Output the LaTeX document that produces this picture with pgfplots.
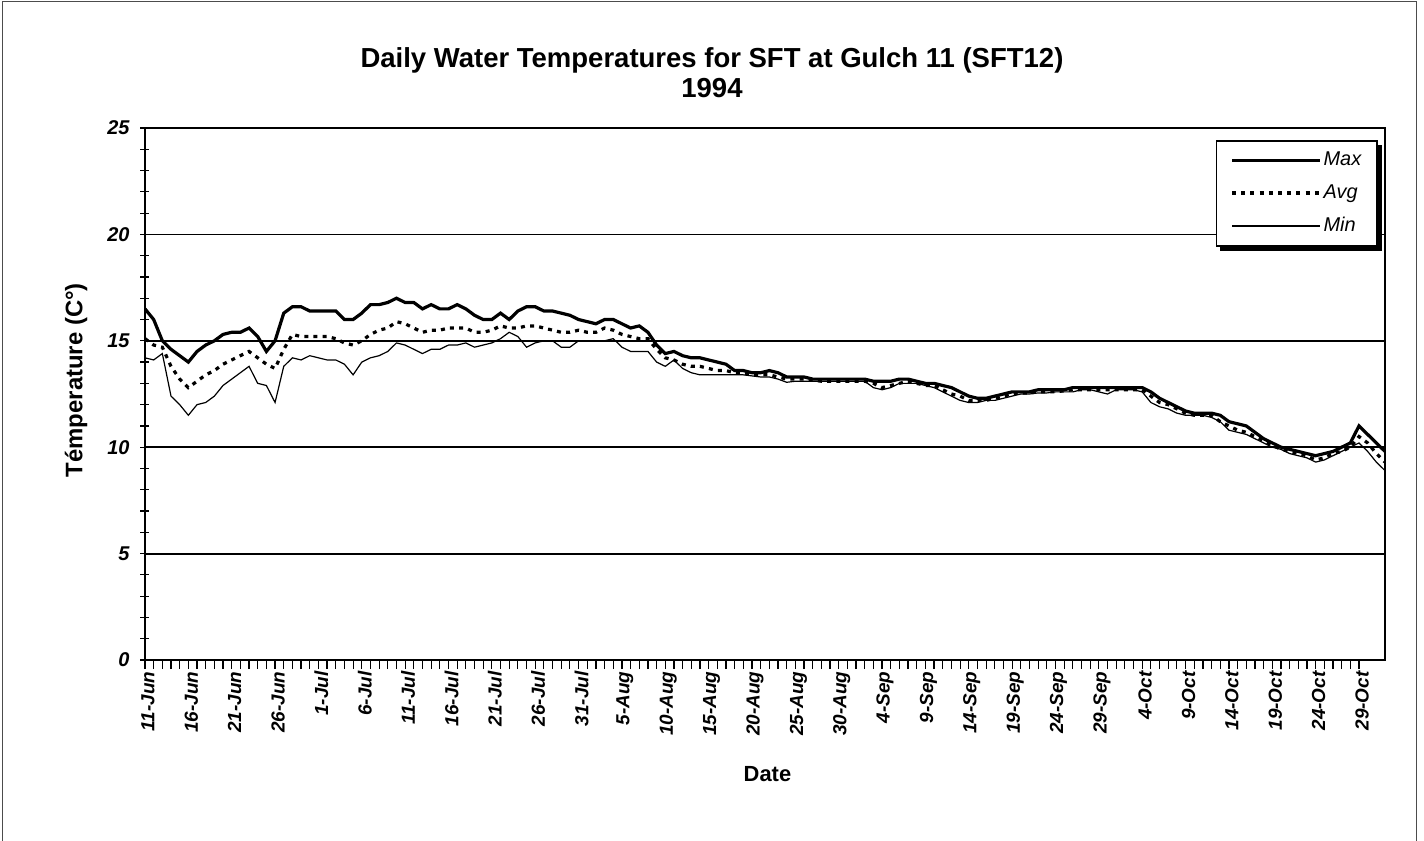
\documentclass[border=0pt]{standalone}
\usepackage{pgfplots}
\pgfplotsset{compat=1.18}
\usepackage{pgfplotstable}
\usepackage{fontspec}
\setmainfont{Liberation Sans}
\pgfdeclarelayer{background}
\pgfsetlayers{background,main}

\pgfplotstableread{
d max avg min
0 16.5 15.1 14.2
1 16.0 14.8 14.1
2 15.0 14.7 14.4
3 14.6 13.8 12.4
4 14.3 13.2 12.0
5 14.0 12.8 11.5
6 14.5 13.1 12.0
7 14.8 13.4 12.1
8 15.0 13.6 12.4
9 15.3 13.9 12.9
10 15.4 14.1 13.2
11 15.4 14.3 13.5
12 15.6 14.5 13.8
13 15.2 14.2 13.0
14 14.5 13.9 12.9
15 15.0 13.7 12.1
16 16.3 14.6 13.8
17 16.6 15.3 14.2
18 16.6 15.2 14.1
19 16.4 15.2 14.3
20 16.4 15.2 14.2
21 16.4 15.2 14.1
22 16.4 15.1 14.1
23 16.0 14.9 13.9
24 16.0 14.8 13.4
25 16.3 15.0 14.0
26 16.7 15.3 14.2
27 16.7 15.5 14.3
28 16.8 15.6 14.5
29 17.0 15.9 14.9
30 16.8 15.8 14.8
31 16.8 15.6 14.6
32 16.5 15.4 14.4
33 16.7 15.5 14.6
34 16.5 15.5 14.6
35 16.5 15.6 14.8
36 16.7 15.6 14.8
37 16.5 15.6 14.9
38 16.2 15.4 14.7
39 16.0 15.4 14.8
40 16.0 15.5 14.9
41 16.3 15.7 15.1
42 16.0 15.6 15.4
43 16.4 15.6 15.2
44 16.6 15.7 14.7
45 16.6 15.7 14.9
46 16.4 15.6 15.0
47 16.4 15.5 15.0
48 16.3 15.4 14.7
49 16.2 15.4 14.7
50 16.0 15.5 15.0
51 15.9 15.4 15.0
52 15.8 15.4 15.0
53 16.0 15.6 15.0
54 16.0 15.5 15.1
55 15.8 15.3 14.7
56 15.6 15.2 14.5
57 15.7 15.1 14.5
58 15.4 15.1 14.5
59 14.8 14.6 14.0
60 14.4 14.2 13.8
61 14.5 14.1 14.1
62 14.3 13.9 13.7
63 14.2 13.8 13.5
64 14.2 13.8 13.4
65 14.1 13.7 13.4
66 14.0 13.6 13.4
67 13.9 13.6 13.4
68 13.6 13.5 13.4
69 13.6 13.5 13.4
70 13.5 13.4 13.35
71 13.5 13.4 13.3
72 13.6 13.4 13.3
73 13.5 13.3 13.2
74 13.3 13.2 13.05
75 13.3 13.2 13.1
76 13.3 13.2 13.1
77 13.2 13.15 13.1
78 13.2 13.1 13.1
79 13.2 13.1 13.1
80 13.2 13.1 13.1
81 13.2 13.1 13.1
82 13.2 13.1 13.1
83 13.2 13.1 13.1
84 13.1 13.0 12.8
85 13.1 12.8 12.7
86 13.1 12.9 12.8
87 13.2 13.0 13.0
88 13.2 13.1 13.0
89 13.1 13.0 13.0
90 13.0 12.9 12.9
91 13.0 12.9 12.8
92 12.9 12.7 12.6
93 12.8 12.5 12.4
94 12.6 12.4 12.2
95 12.4 12.2 12.1
96 12.3 12.2 12.1
97 12.3 12.2 12.2
98 12.4 12.3 12.2
99 12.5 12.4 12.3
100 12.6 12.5 12.4
101 12.6 12.55 12.5
102 12.6 12.55 12.5
103 12.7 12.6 12.55
104 12.7 12.6 12.55
105 12.7 12.6 12.6
106 12.7 12.65 12.6
107 12.8 12.7 12.6
108 12.8 12.7 12.7
109 12.8 12.7 12.7
110 12.8 12.7 12.6
111 12.8 12.7 12.5
112 12.8 12.7 12.7
113 12.8 12.7 12.7
114 12.8 12.7 12.7
115 12.8 12.7 12.6
116 12.6 12.4 12.1
117 12.3 12.1 11.9
118 12.1 12.0 11.8
119 11.9 11.8 11.6
120 11.7 11.6 11.5
121 11.6 11.5 11.5
122 11.6 11.5 11.5
123 11.6 11.5 11.4
124 11.5 11.2 11.2
125 11.2 11.0 10.8
126 11.1 10.8 10.7
127 11.0 10.7 10.6
128 10.7 10.5 10.4
129 10.4 10.3 10.2
130 10.2 10.1 10.0
131 10.0 9.9 9.9
132 9.9 9.8 9.7
133 9.8 9.7 9.6
134 9.7 9.6 9.5
135 9.6 9.4 9.3
136 9.7 9.5 9.4
137 9.8 9.7 9.6
138 10.0 9.8 9.8
139 10.2 10.0 10.0
140 11.0 10.5 10.2
141 10.6 10.2 9.8
142 10.2 9.7 9.3
143 9.8 9.3 8.9
}\datatable

\begin{document}
\begin{tikzpicture}
\useasboundingbox (-72.5bp,-90.5bp) rectangle (639.5bp,330bp);
\draw[line width=0.5bp, black!70] (-71bp,-95bp) -- (-71bp,329bp) -- (635.5bp,329bp) -- (635.5bp,-95bp);
\begin{axis}[
  scale only axis, width=620bp, height=266bp,
  at={(0,0)}, anchor=south west,
  xmin=0, xmax=143, ymin=0, ymax=25,
  xtick={0,5,...,140},
  xticklabels={11-Jun,16-Jun,21-Jun,26-Jun,1-Jul,6-Jul,11-Jul,16-Jul,21-Jul,26-Jul,31-Jul,5-Aug,10-Aug,15-Aug,20-Aug,25-Aug,30-Aug,4-Sep,9-Sep,14-Sep,19-Sep,24-Sep,29-Sep,4-Oct,9-Oct,14-Oct,19-Oct,24-Oct,29-Oct},
  minor x tick num=4,
  ytick={0,5,...,25}, minor y tick num=4,
  xtick pos=bottom, ytick pos=left,
  tick align=center,
  major tick length=4.5bp, minor tick length=4.5bp,
  x tick style={yshift=-2.25bp, line width=0.6bp, black},
  y tick style={line width=0.6bp, black},
  ymajorgrids, grid style={black, line width=0.9bp},
  axis line style={black, line width=0.8bp},
  /pgf/number format/assume math mode=true,
  xticklabel style={rotate=90, anchor=east, font=\fontsize{9.5}{10}\selectfont\bfseries\itshape, yshift=-1.5bp},
  yticklabel style={font=\fontsize{10}{12}\selectfont\bfseries\itshape, xshift=-2bp},
  xlabel={Date},
  ylabel={Témperature (C°)},
  xlabel style={font=\fontsize{11}{13}\selectfont\bfseries, at={(axis description cs:0.502,-0.214)}, anchor=center},
  ylabel style={font=\fontsize{12}{14}\selectfont\bfseries, at={(axis description cs:-0.0555,0.526)}, anchor=center, rotate=0},
  legend style={name=leg, at={(axis description cs:0.9944,0.977)}, anchor=north east,
    draw=black, line width=0.8bp, fill=white,
    font=\fontsize{10}{12}\selectfont\itshape,
    inner xsep=7bp, inner ysep=3.5bp, row sep=4bp,
    nodes={inner xsep=1bp}},
  legend cell align=left,
  legend image code/.code={\draw[#1] (0bp,0bp) -- (44bp,0bp);},
]
\addplot[black, line width=1.6bp] table[x=d, y=max] {\datatable};
\addlegendentry{Max}
\addplot[black, line width=1.6bp, dash pattern=on 2bp off 2.6bp] table[x=d, y=avg] {\datatable};
\addlegendentry{Avg}
\addplot[black, line width=0.6bp] table[x=d, y=min] {\datatable};
\addlegendentry{Min}
\end{axis}
\begin{pgfonlayer}{background}
\fill[black] ([xshift=2.2bp,yshift=-2.2bp]leg.south west) rectangle ([xshift=2.2bp,yshift=-2.2bp]leg.north east);
\end{pgfonlayer}
\node[font=\fontsize{13.8}{15}\selectfont\bfseries, align=center] at (283.5bp,293.5bp) {Daily Water Temperatures for SFT at Gulch 11 (SFT12)\\1994};
\end{tikzpicture}
\end{document}
